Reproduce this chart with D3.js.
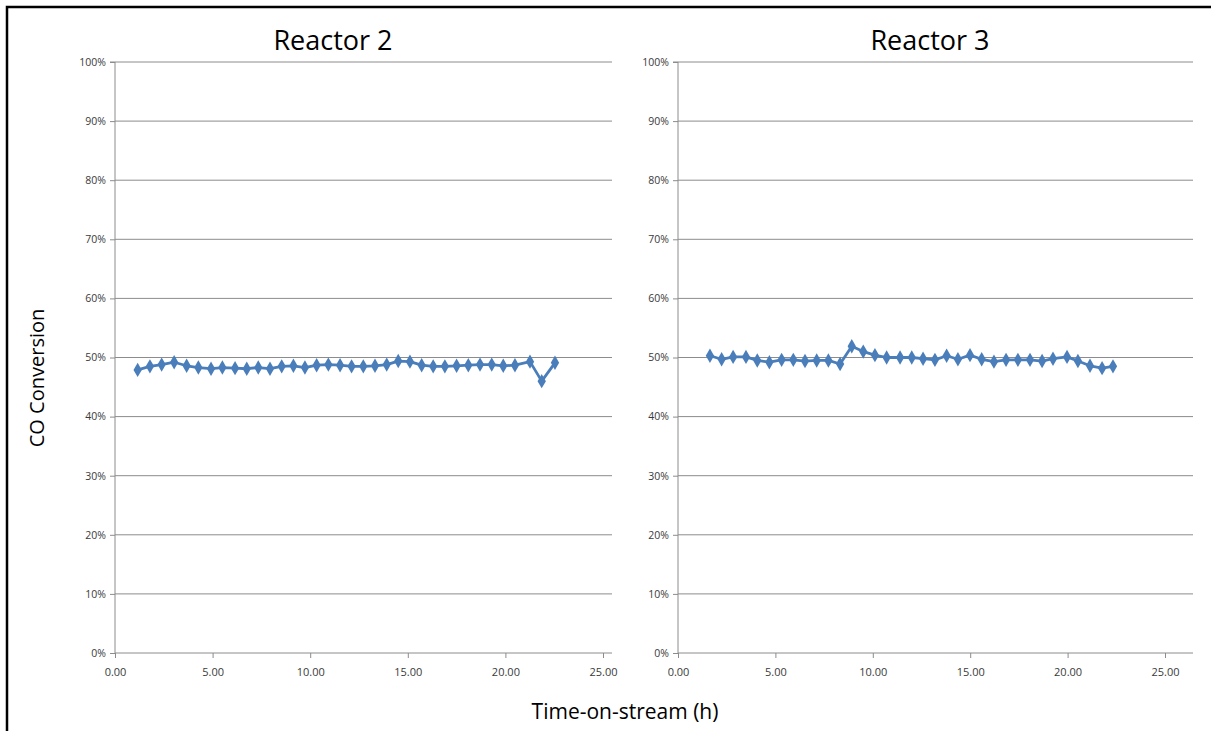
<!DOCTYPE html>
<html><head><meta charset="utf-8">
<script src="https://cdn.jsdelivr.net/npm/d3@7"></script>
<style>body{margin:0;background:#fff;}svg{display:block;}</style>
</head><body>
<svg id="c" width="1211" height="731"></svg>
<script>
const titles = ["Reactor 2", "Reactor 3"];
const yTicks = [0,10,20,30,40,50,60,70,80,90,100];
const xTicks = [0,5,10,15,20,25];
const r2Time = [1.16,1.79,2.39,3.03,3.67,4.27,4.92,5.50,6.15,6.75,7.34,7.94,8.54,9.14,9.73,10.33,10.93,11.53,12.12,12.72,13.32,13.92,14.51,15.11,15.71,16.30,16.90,17.50,18.10,18.70,19.30,19.89,20.49,21.26,21.86,22.54];
const r2Conv = [47.9,48.5,48.8,49.2,48.6,48.3,48.1,48.3,48.2,48.1,48.3,48.1,48.5,48.6,48.3,48.7,48.8,48.7,48.5,48.5,48.6,48.8,49.4,49.3,48.7,48.5,48.5,48.6,48.7,48.8,48.8,48.6,48.7,49.3,46.0,49.1];
const r3Time = [1.64,2.24,2.83,3.49,4.07,4.69,5.32,5.92,6.52,7.12,7.72,8.32,8.92,9.51,10.11,10.71,11.40,12.00,12.58,13.19,13.79,14.37,14.99,15.59,16.22,16.84,17.45,18.07,18.69,19.25,19.97,20.53,21.15,21.77,22.33];
const r3Conv = [50.3,49.7,50.1,50.1,49.5,49.2,49.6,49.6,49.4,49.5,49.5,48.9,51.9,51.0,50.4,50.0,50.0,50.0,49.8,49.6,50.3,49.7,50.4,49.7,49.3,49.6,49.6,49.6,49.4,49.8,50.1,49.4,48.6,48.2,48.5];

const svg = d3.select("#c");
const font = "'Open Sans', sans-serif";
svg.append("rect").attr("x",7).attr("y",7).attr("width",1230).attr("height",760)
  .attr("fill","none").attr("stroke","#000").attr("stroke-width",2.5);

const panels = [
  {title:titles[0], t:r2Time, v:r2Conv, x0:115, x25:603, xEnd:612, cx:333},
  {title:titles[1], t:r3Time, v:r3Conv, x0:678, x25:1165, xEnd:1193, cx:930}
];
const yTop = 62, yBot = 653;
const gridCol = "#8c8c8c", txtCol = "#3a3a3a", lineCol = "#4a7ebb";

panels.forEach(p => {
  const x = d3.scaleLinear().domain([0,25]).range([p.x0,p.x25]);
  const y = d3.scaleLinear().domain([0,100]).range([yBot,yTop]);
  const g = svg.append("g");
  g.selectAll("line.grid").data(yTicks.filter(d=>d>0)).join("line")
    .attr("x1",p.x0).attr("x2",p.xEnd).attr("y1",d=>y(d)).attr("y2",d=>y(d))
    .attr("stroke",gridCol).attr("stroke-width",1);
  const ya = d3.axisLeft(y).tickValues(yTicks).tickFormat(d=>d+"%").tickSize(5).tickPadding(4);
  const yg = g.append("g").attr("transform",`translate(${p.x0},0)`).call(ya);
  yg.select(".domain").attr("stroke",gridCol).attr("d",`M-5,${yTop}H0V${yBot}`);
  yg.selectAll(".tick line").attr("stroke",gridCol);
  yg.selectAll("text").attr("fill",txtCol).style("font-family",font).style("font-size","10.5px");
  const xa = d3.axisBottom(x).tickValues(xTicks).tickFormat(d3.format(".2f")).tickSize(5).tickPadding(10);
  const xg = g.append("g").attr("transform",`translate(0,${yBot})`).call(xa);
  xg.select(".domain").attr("stroke",gridCol).attr("d",`M${p.x0},0H${p.xEnd}`);
  xg.selectAll(".tick line").attr("stroke",gridCol);
  xg.selectAll("text").attr("fill",txtCol).style("font-family",font).style("font-size","11px");
  g.append("text").attr("x",p.cx).attr("y",50).attr("text-anchor","middle")
    .style("font-family",font).style("font-size","27px").attr("fill","#000").text(p.title);
  const pts = p.t.map((t,i)=>[t,p.v[i]]);
  g.append("path").datum(pts).attr("fill","none").attr("stroke",lineCol).attr("stroke-width",2.8)
    .attr("stroke-linejoin","round")
    .attr("d",d3.line().x(d=>x(d[0])).y(d=>y(d[1])));
  g.selectAll("path.m").data(pts).join("path").attr("class","m")
    .attr("transform",d=>`translate(${x(d[0])},${y(d[1])})`)
    .attr("d",d3.symbol(d3.symbolDiamond,60)())
    .attr("fill",lineCol);
});

svg.append("text").attr("transform","translate(44,378) rotate(-90)").attr("text-anchor","middle")
  .style("font-family",font).style("font-size","20px").attr("fill","#000").text("CO Conversion");
svg.append("text").attr("x",625).attr("y",719).attr("text-anchor","middle")
  .style("font-family",font).style("font-size","21px").attr("fill","#000").text("Time-on-stream (h)");
</script>
</body></html>
